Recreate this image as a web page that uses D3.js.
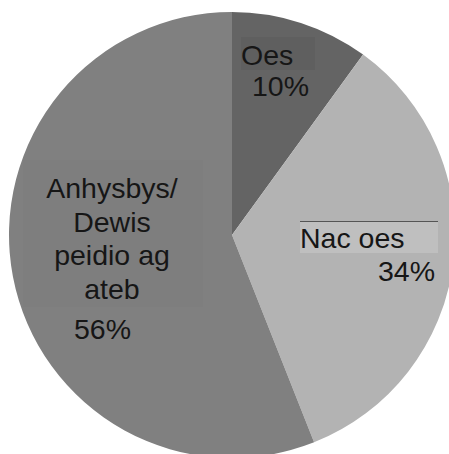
<!DOCTYPE html>
<html>
<head>
<meta charset="utf-8">
<script src="https://cdn.jsdelivr.net/npm/d3@7"></script>
<style>
  html, body { margin: 0; padding: 0; background: #ffffff; }
  svg { display: block; }
  text { font-family: "Liberation Sans", Arial, sans-serif; fill: #161616; }
</style>
</head>
<body>
<svg id="chart" width="449" height="454"></svg>
<script>
const categories = ["Oes", "Nac oes", "Anhysbys/ Dewis peidio ag ateb"];
const values = [10, 34, 56];
const categoryLines = [["Oes"], ["Nac oes"], ["Anhysbys/", "Dewis", "peidio ag", "ateb"]];
const percentLabels = ["10%", "34%", "56%"];

const colors = ["#646464", "#b3b3b3", "#808080"];

const svg = d3.select("#chart");
const cx = 232, cy = 235, R = 223;
const g = svg.append("g").attr("transform", `translate(${cx},${cy})`);

const pie = d3.pie().sort(null).value(d => d)(values);
const arc = d3.arc().innerRadius(0).outerRadius(R);

g.selectAll("path.slice")
  .data(pie)
  .join("path")
  .attr("class", "slice")
  .attr("d", arc)
  .attr("fill", (d, i) => colors[i]);

// label layout (relative to page)
const fs = 28.5;
const layout = [
  { box: [241, 37, 74, 33], boxFill: "#5f5f5f", topLine: false,
    cat: { x: 241, y: 65, anchor: "start" }, pct: { x: 252, y: 96, anchor: "start" } },
  { box: [300, 221, 138, 32], boxFill: "#bfbfbf", topLine: true,
    cat: { x: 300, y: 248, anchor: "start" }, pct: { x: 435, y: 281, anchor: "end" } },
  { box: [23, 160, 180, 147], boxFill: "#7e7e7e", topLine: false,
    cat: { x: 112, y: 198, anchor: "middle" }, pct: { x: 74, y: 339, anchor: "start" } }
];

const lg = svg.append("g");
layout.forEach((L, i) => {
  lg.append("rect")
    .attr("x", L.box[0]).attr("y", L.box[1])
    .attr("width", L.box[2]).attr("height", L.box[3])
    .attr("fill", L.boxFill);
  if (L.topLine) {
    lg.append("line")
      .attr("x1", L.box[0]).attr("x2", L.box[0] + L.box[2])
      .attr("y1", L.box[1] + 0.5).attr("y2", L.box[1] + 0.5)
      .attr("stroke", "#555").attr("stroke-width", 1);
  }
  const t = lg.append("text")
    .attr("x", L.cat.x).attr("y", L.cat.y)
    .attr("text-anchor", L.cat.anchor)
    .style("font-size", fs + "px");
  categoryLines[i].forEach((ln, k) => {
    t.append("tspan").attr("x", L.cat.x).attr("dy", k === 0 ? 0 : 33.5).text(ln);
  });
  lg.append("text")
    .attr("x", L.pct.x).attr("y", L.pct.y)
    .attr("text-anchor", L.pct.anchor)
    .style("font-size", fs + "px")
    .text(percentLabels[i]);
});
</script>
</body>
</html>
